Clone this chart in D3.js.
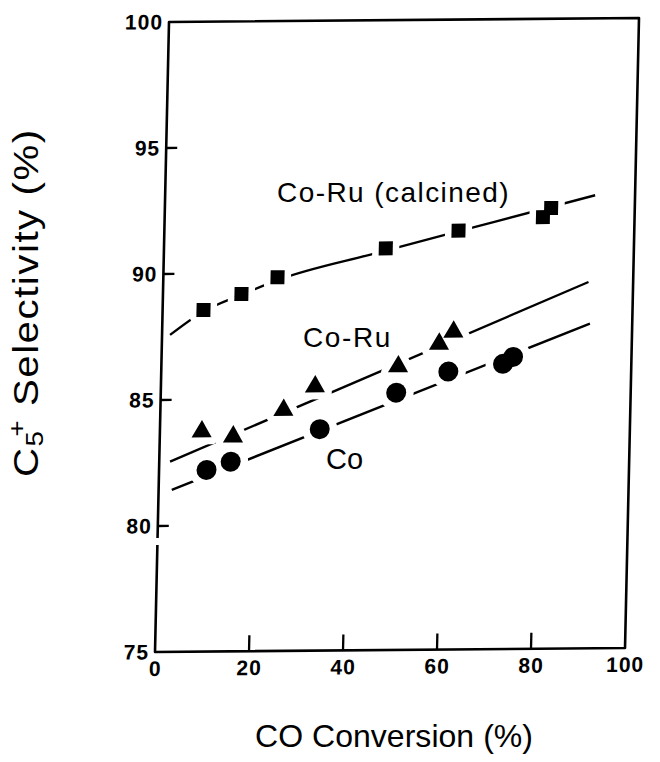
<!DOCTYPE html>
<html>
<head>
<meta charset="utf-8">
<script src="https://cdn.jsdelivr.net/npm/d3@7/dist/d3.min.js"></script>
<style>
  html, body { margin: 0; padding: 0; background: #fff; }
  svg { display: block; }
  text { font-family: "Liberation Sans", Arial, Helvetica, sans-serif; fill: #000; }
  .tick text { font-size: 21px; font-weight: bold; }
</style>
</head>
<body>
<svg id="chart" width="660" height="762"></svg>
<script>
// ---- data ----
const xTickValues = [0, 20, 40, 60, 80, 100];
const yTickValues = [75, 80, 85, 90, 95, 100];
const xTickMarks = [20, 40, 60, 80];
const yTickMarks = [80, 85, 90, 95];

// Co-Ru (calcined) : squares
const calcinedX = [8.7, 16.7, 24.3, 47.2, 62.6, 80.5, 82.2];
const calcinedY = [88.56, 89.18, 89.83, 90.94, 91.62, 92.13, 92.49];
// Co-Ru : triangles
const coRuX = [8.9, 15.6, 26.2, 32.8, 50.4, 59.0, 62.0];
const coRuY = [83.73, 83.52, 84.56, 85.48, 86.25, 87.13, 87.61];
// Co : circles
const coX = [10.1, 15.2, 34.0, 50.1, 61.1, 72.7, 74.8];
const coY = [82.21, 82.53, 83.79, 85.21, 86.03, 86.32, 86.59];

// trend lines
const calcinedFitX = [1.7, 8.7, 16.7, 24.3, 45, 70, 91.5];
const calcinedFitY = [87.58, 88.5, 89.15, 89.72, 90.75, 91.95, 92.98];
const coRuFitX = [2.3, 90.5];
const coRuFitY = [82.55, 89.54];
const coFitX = [2.8, 91.0];
const coFitY = [81.43, 87.89];

const labels = ["Co-Ru (calcined)", "Co-Ru", "Co"];

// ---- layout ----
const svg = d3.select("#chart");
const W = 470, H = 630;
const x = d3.scaleLinear().domain([0, 100]).range([0, W]);
const y = d3.scaleLinear().domain([75, 100]).range([H, 0]);

// plot group (slightly sheared like the scanned original)
const g = svg.append("g").attr("transform", "matrix(1,-0.0085,-0.0222,1,169,22)");

const zip = (a, b) => a.map((v, i) => [v, b[i]]);

// frame
const yBreakTop = 79.52, yBreakBot = 79.25;
const frame = d3.path();
frame.moveTo(x(0), y(yBreakTop));
frame.lineTo(x(0), y(100));
frame.lineTo(x(100), y(100));
frame.lineTo(x(100), y(75));
frame.lineTo(x(0), y(75));
frame.lineTo(x(0), y(yBreakBot));
g.append("path").attr("d", frame.toString())
  .attr("fill", "none").attr("stroke", "#000").attr("stroke-width", 2.6)
  .attr("stroke-linejoin", "round");

// axes
const xAxis = d3.axisBottom(x).tickValues(xTickValues).tickSizeInner(0).tickSizeOuter(0).tickPadding(9).tickFormat(d3.format("d"));
const gx = g.append("g").attr("transform", `translate(0,${H})`).call(xAxis);
const yAxis = d3.axisLeft(y).tickValues(yTickValues).tickSizeInner(0).tickSizeOuter(0).tickPadding(6).tickFormat(d3.format("d"));
const gy = g.append("g").call(yAxis);
[gx, gy].forEach(a => {
  a.select(".domain").remove();
  a.attr("font-size", 21).attr("font-family", "'Liberation Sans', Arial, sans-serif");
  a.selectAll("text").attr("letter-spacing", 1).attr("fill", "#000");
});

// tick marks (pointing inward)
g.selectAll(".xt").data(xTickMarks).enter().append("line")
  .attr("x1", d => x(d)).attr("x2", d => x(d))
  .attr("y1", H).attr("y2", H - 16)
  .attr("stroke", "#000").attr("stroke-width", 2.3);
g.selectAll(".yt").data(yTickMarks).enter().append("line")
  .attr("x1", 0).attr("x2", 11)
  .attr("y1", d => y(d)).attr("y2", d => y(d))
  .attr("stroke", "#000").attr("stroke-width", 2.3);

// trend lines
const line = d3.line().x(d => x(d[0])).y(d => y(d[1]));
const curve = d3.line().x(d => x(d[0])).y(d => y(d[1])).curve(d3.curveMonotoneX);
g.append("path").attr("d", curve(zip(calcinedFitX, calcinedFitY)))
  .attr("fill", "none").attr("stroke", "#000").attr("stroke-width", 2.4);
g.append("path").attr("d", line(zip(coRuFitX, coRuFitY)))
  .attr("fill", "none").attr("stroke", "#000").attr("stroke-width", 2.4);
g.append("path").attr("d", line(zip(coFitX, coFitY)))
  .attr("fill", "none").attr("stroke", "#000").attr("stroke-width", 2.4);

// markers: halos first, then fills
const sq = zip(calcinedX, calcinedY);
const tri = zip(coRuX, coRuY);
const cir = zip(coX, coY);
const triPath = d3.symbol().type(d3.symbolTriangle).size(175);

function drawMarkers(layer, halo) {
  const st = halo ? "#fff" : "none";
  const fill = halo ? "#fff" : "#000";
  layer.selectAll(null).data(sq).enter().append("rect")
    .attr("x", d => x(d[0]) - 7).attr("y", d => y(d[1]) - 7)
    .attr("width", 14).attr("height", 14)
    .attr("fill", fill).attr("stroke", st).attr("stroke-width", halo ? 13 : 0)
    .attr("stroke-linejoin", "round");
  layer.selectAll(null).data(tri).enter().append("path")
    .attr("d", triPath)
    .attr("transform", d => `translate(${x(d[0])},${y(d[1])})`)
    .attr("fill", fill).attr("stroke", st).attr("stroke-width", halo ? 14 : 0)
    .attr("stroke-linejoin", "round");
  layer.selectAll(null).data(cir).enter().append("circle")
    .attr("cx", d => x(d[0])).attr("cy", d => y(d[1])).attr("r", 10)
    .attr("fill", fill).attr("stroke", st).attr("stroke-width", halo ? 15 : 0);
}
drawMarkers(g.append("g"), true);
drawMarkers(g.append("g"), false);

// series labels
function fitText(sel, target) {
  const n = sel.text().length;
  const w = sel.node().getComputedTextLength();
  sel.attr("letter-spacing", Math.max(0, (target - w) / n));
}
const l1 = svg.append("text").attr("x", 277).attr("y", 202).attr("font-size", 28).text(labels[0]);
fitText(l1, 233);
const l2 = svg.append("text").attr("x", 303).attr("y", 347).attr("font-size", 28).text(labels[1]);
fitText(l2, 89);
const l3 = svg.append("text").attr("x", 326).attr("y", 469).attr("font-size", 29).text(labels[2]);
fitText(l3, 37);

// axis titles
const xt = svg.append("text").attr("x", 255).attr("y", 747).attr("font-size", 32).text("CO Conversion (%)");
fitText(xt, 278);

const stretch = 1.15;
const yt = svg.append("text").attr("transform", `translate(38,477) rotate(-90) scale(${stretch},1)`).attr("font-size", 35);
yt.append("tspan").text("C");
yt.append("tspan").attr("font-size", 24).attr("dy", 5).text("5");
yt.append("tspan").attr("font-size", 24).attr("dx", -6).attr("dy", -18).text("+");
yt.append("tspan").attr("dy", 13).text(" Selectivity (%)");
{
  const w = yt.node().getComputedTextLength();
  const n = 18;
  const ls = Math.max(0, (354 / stretch - w) / n);
  yt.attr("letter-spacing", ls);
}
</script>
</body>
</html>
